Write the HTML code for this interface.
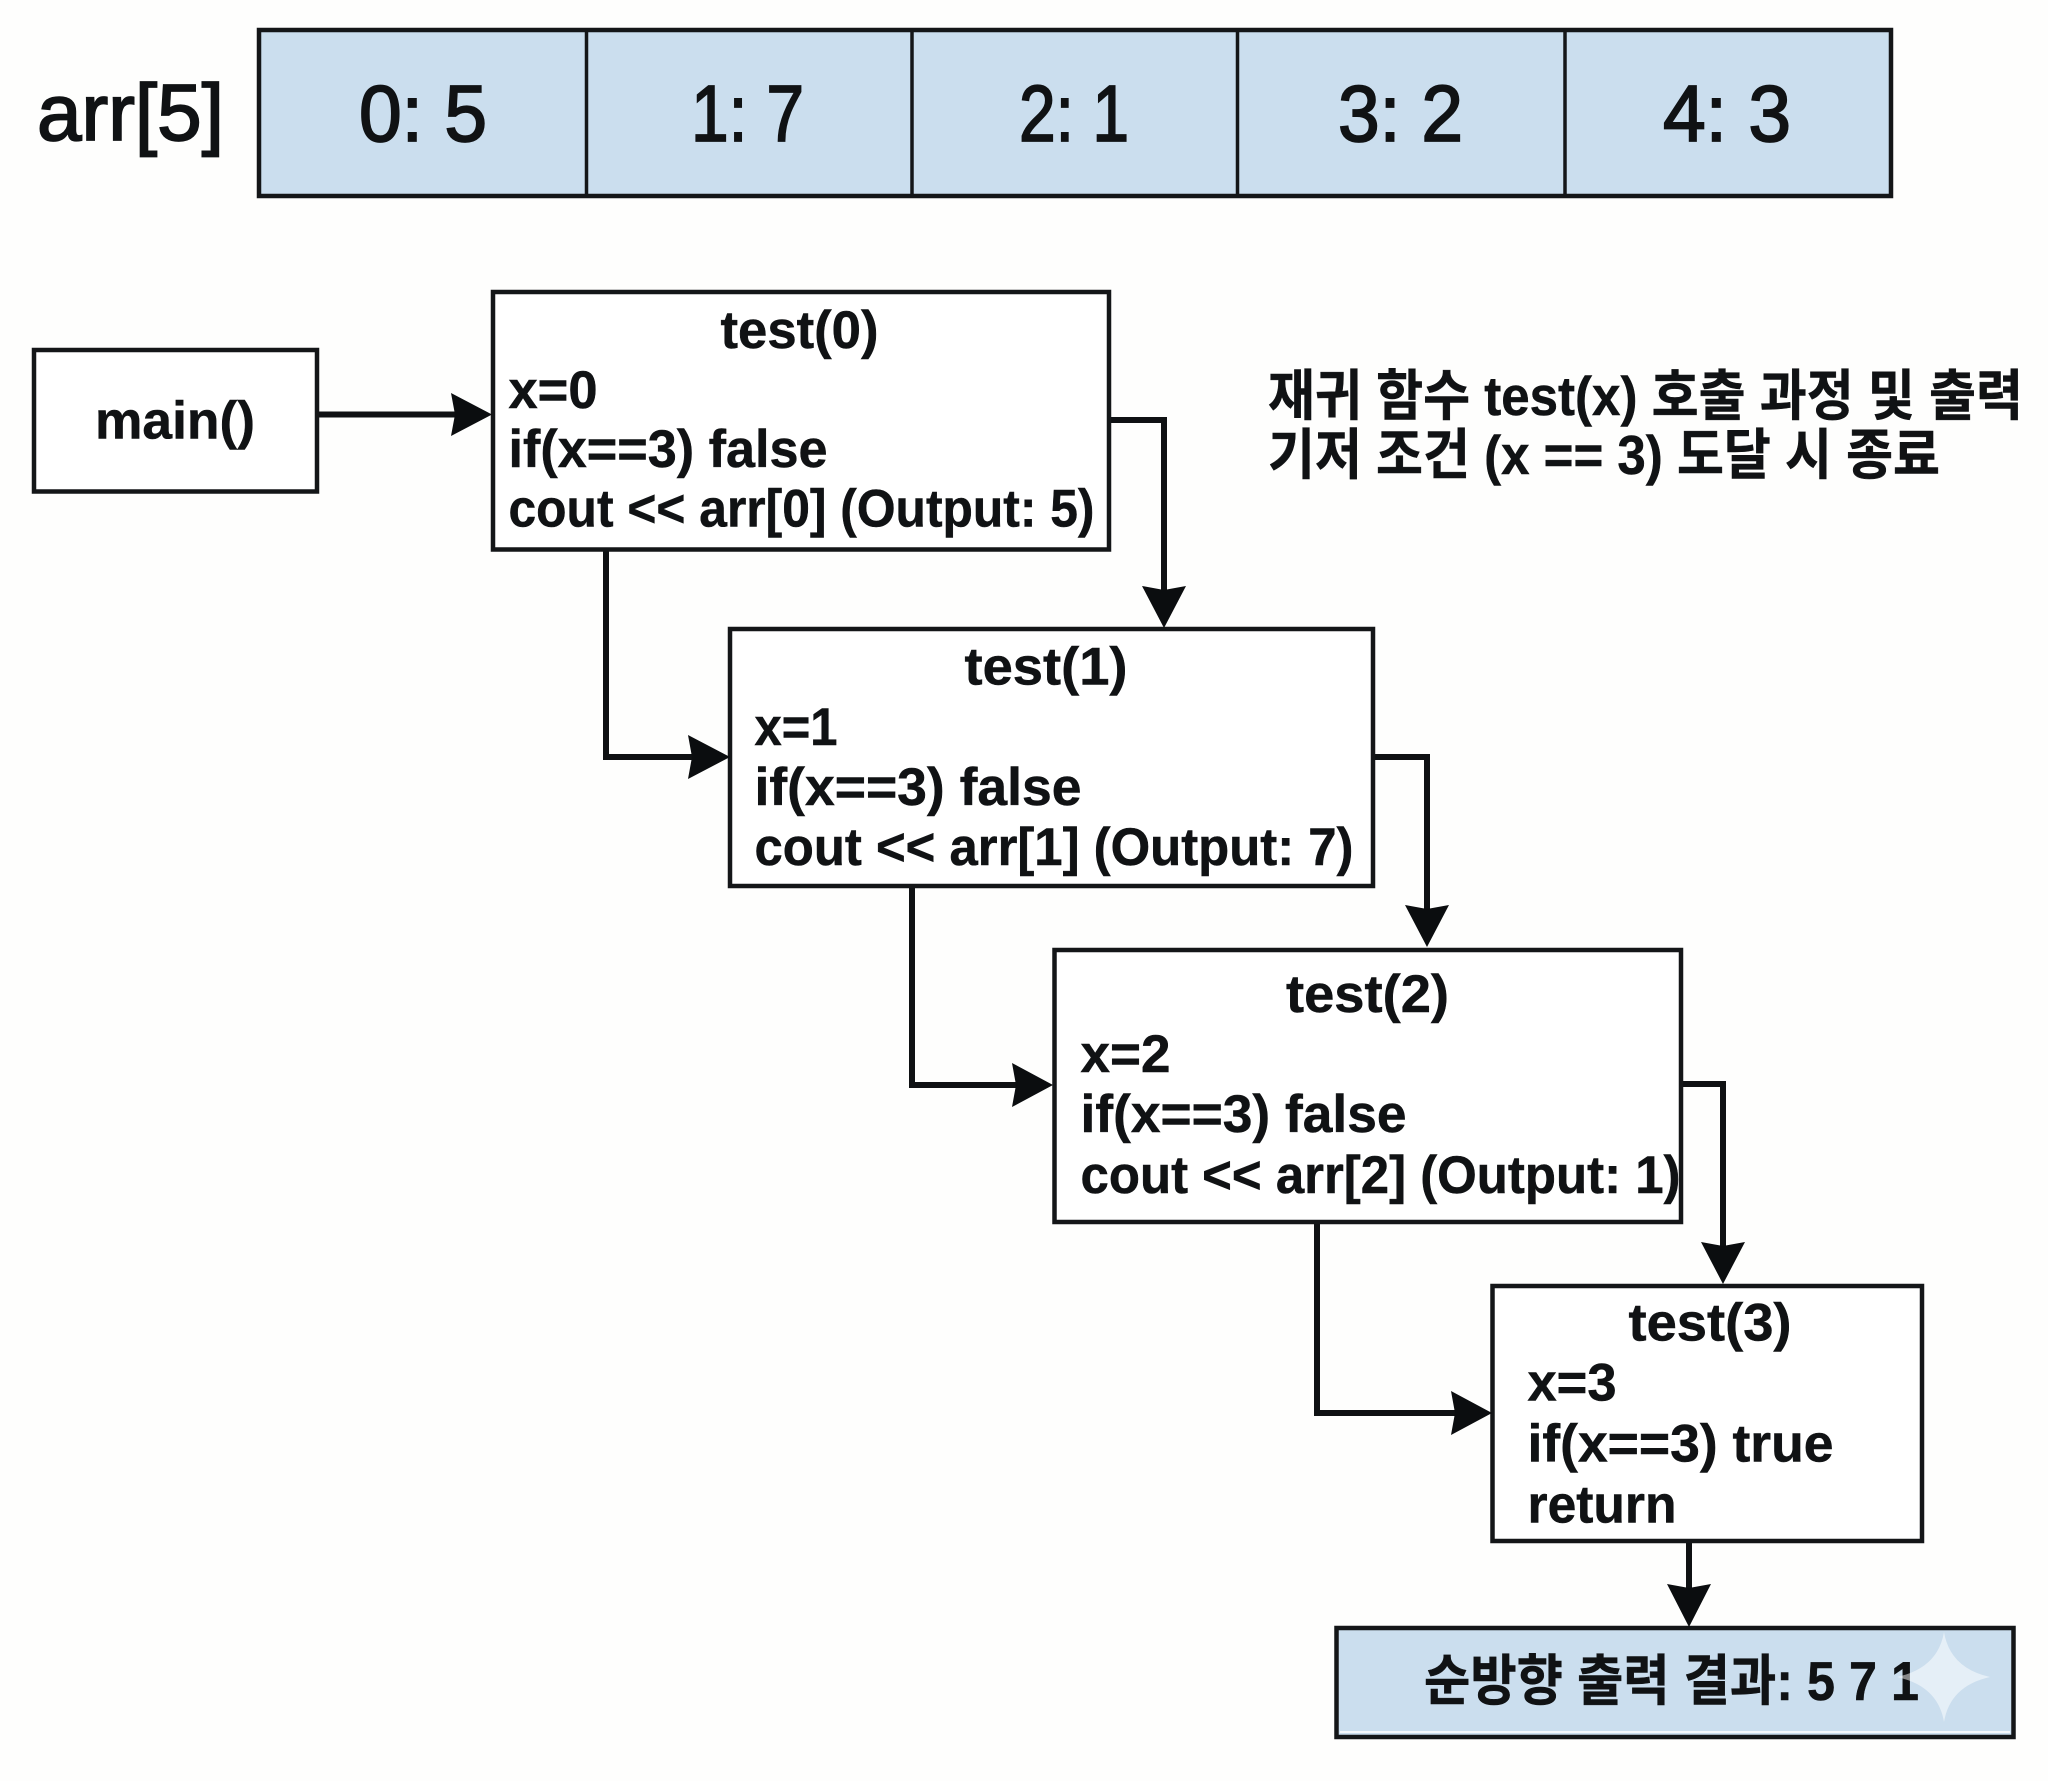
<!DOCTYPE html>
<html lang="ko">
<head>
<meta charset="utf-8">
<title>재귀 함수 test(x) 호출 과정</title>
<style>
html,body{margin:0;padding:0;background:#fefefd}
svg{display:block}
text{font-family:"Liberation Sans","Noto Sans CJK KR",sans-serif;fill:#101214}
.a{font-size:80px;font-weight:400;stroke:#101214;stroke-width:1.8}
.b{font-size:53px;font-weight:700;stroke:#101214;stroke-width:.5}
.k{font-size:55px;font-weight:700;stroke:#101214;stroke-width:.5}
.r{font-size:55px;font-weight:700;stroke:#101214;stroke-width:.5}
.box{fill:#fff;stroke:#141618;stroke-width:4.5}
.arr{fill:#cbdeee;stroke:#141618;stroke-width:4.5}
.ln{fill:none;stroke:#0f1113;stroke-width:6;stroke-linejoin:miter}
.hd{fill:#0b0d0f}
</style>
</head>
<body>
<svg xmlns="http://www.w3.org/2000/svg" width="2048" height="1781" viewBox="0 0 2048 1781">
<rect width="2048" height="1781" fill="#fefefd"/>

<!-- array -->
<rect class="arr" x="259" y="30" width="1632" height="166"/>
<path d="M586.5 30V196M912 30V196M1237.5 30V196M1565 30V196" stroke="#141618" stroke-width="3.5" fill="none"/>
<text class="a" x="37" y="140" textLength="187" lengthAdjust="spacingAndGlyphs">arr[5]</text>
<text class="a" x="359" y="141" textLength="128" lengthAdjust="spacingAndGlyphs">0: 5</text>
<text class="a" x="691" y="141" textLength="113" lengthAdjust="spacingAndGlyphs">1: 7</text>
<text class="a" x="1019" y="141" textLength="110" lengthAdjust="spacingAndGlyphs">2: 1</text>
<text class="a" x="1338" y="141" textLength="125" lengthAdjust="spacingAndGlyphs">3: 2</text>
<text class="a" x="1663" y="141" textLength="128" lengthAdjust="spacingAndGlyphs">4: 3</text>

<!-- connectors -->
<path class="ln" d="M317 414.5H460"/>
<path class="ln" d="M1109 420H1164V596"/>
<path class="ln" d="M606 550V757H698"/>
<path class="ln" d="M1373 757H1427V915"/>
<path class="ln" d="M912 886V1085H1022"/>
<path class="ln" d="M1681 1084H1723V1252"/>
<path class="ln" d="M1317 1222V1413H1460"/>
<path class="ln" d="M1689 1541V1595"/>

<!-- boxes -->
<rect class="box" x="34" y="350" width="283" height="141.500"/>
<rect class="box" x="493" y="292" width="616" height="257.500"/>
<rect class="box" x="730" y="629" width="643" height="257"/>
<rect class="box" x="1054.500" y="950" width="626.500" height="272"/>
<rect class="box" x="1492.500" y="1286" width="429.500" height="255"/>
<rect class="arr" x="1336.500" y="1628" width="677" height="109"/>
<rect x="1340" y="1731" width="670" height="2" fill="#f4f8fb"/>

<!-- arrowheads -->
<polygon class="hd" points="492,414.500 451,393 455,414.500 451,436"/>
<polygon class="hd" points="1164,628 1142,586 1164,590 1186,586"/>
<polygon class="hd" points="730,757 688,735 692,757 688,779"/>
<polygon class="hd" points="1427,947 1405,905 1427,909 1449,905"/>
<polygon class="hd" points="1053,1085 1012,1063 1016,1085 1012,1107"/>
<polygon class="hd" points="1723,1284 1701,1242 1723,1246 1745,1242"/>
<polygon class="hd" points="1492,1413 1451,1391 1455,1413 1451,1435"/>
<polygon class="hd" points="1689,1627 1667,1584 1689,1588 1711,1584"/>

<!-- main -->
<text class="b" x="95" y="438.500" textLength="160" lengthAdjust="spacingAndGlyphs">main()</text>

<!-- test(0) -->
<text class="b" x="720.500" y="348" textLength="158" lengthAdjust="spacingAndGlyphs">test(0)</text>
<text class="b" x="508.500" y="408" textLength="89" lengthAdjust="spacingAndGlyphs">x=0</text>
<text class="b" x="508.500" y="467" textLength="319" lengthAdjust="spacingAndGlyphs">if(x==3) false</text>
<text class="b" x="508.500" y="526.500" textLength="586" lengthAdjust="spacingAndGlyphs">cout &lt;&lt; arr[0] (Output: 5)</text>

<!-- test(1) -->
<text class="b" x="964.500" y="684.500" textLength="163" lengthAdjust="spacingAndGlyphs">test(1)</text>
<text class="b" x="754.500" y="745" textLength="83" lengthAdjust="spacingAndGlyphs">x=1</text>
<text class="b" x="754.500" y="805" textLength="327" lengthAdjust="spacingAndGlyphs">if(x==3) false</text>
<text class="b" x="754.500" y="865" textLength="599" lengthAdjust="spacingAndGlyphs">cout &lt;&lt; arr[1] (Output: 7)</text>

<!-- test(2) -->
<text class="b" x="1286" y="1012" textLength="163" lengthAdjust="spacingAndGlyphs">test(2)</text>
<text class="b" x="1080.500" y="1072" textLength="90" lengthAdjust="spacingAndGlyphs">x=2</text>
<text class="b" x="1080.500" y="1132" textLength="326" lengthAdjust="spacingAndGlyphs">if(x==3) false</text>
<text class="b" x="1080.500" y="1193" textLength="600" lengthAdjust="spacingAndGlyphs">cout &lt;&lt; arr[2] (Output: 1)</text>

<!-- test(3) -->
<text class="b" x="1628.500" y="1340.500" textLength="163" lengthAdjust="spacingAndGlyphs">test(3)</text>
<text class="b" x="1527.500" y="1400.500" textLength="89" lengthAdjust="spacingAndGlyphs">x=3</text>
<text class="b" x="1527.500" y="1461.500" textLength="306" lengthAdjust="spacingAndGlyphs">if(x==3) true</text>
<text class="b" x="1527.500" y="1522.500" textLength="149" lengthAdjust="spacingAndGlyphs">return</text>

<!-- caption -->
<text class="k" x="1268" y="415" textLength="755" lengthAdjust="spacingAndGlyphs">재귀 함수 test(x) 호출 과정 및 출력</text>
<text class="k" x="1268" y="474" textLength="672" lengthAdjust="spacingAndGlyphs">기저 조건 (x == 3) 도달 시 종료</text>

<!-- result -->
<text class="r" x="1424" y="1700" textLength="495" lengthAdjust="spacingAndGlyphs">순방향 출력 결과: 5 7 1</text>

<!-- watermark sparkle -->
<path d="M1944 1632Q1950 1668 1990 1677Q1950 1686 1944 1722Q1938 1686 1897 1677Q1938 1668 1944 1632Z" fill="#ffffff" fill-opacity="0.5"/>
</svg>
</body>
</html>
